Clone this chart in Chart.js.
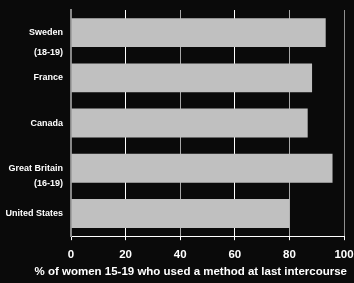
<!DOCTYPE html>
<html><head><meta charset="utf-8">
<script src="https://cdn.jsdelivr.net/npm/chart.js@4/dist/chart.umd.min.js"></script>
<style>html,body{margin:0;padding:0;background:#0a0a0a;overflow:hidden}</style>
</head><body>
<canvas id="c" width="354" height="283"></canvas>
<script>
const categories = [["", "Sweden", "(18-19)"], "France", "Canada", ["", "Great Britain", "(16-19)"], "United States"];
const values = [93.3, 88.3, 86.7, 95.8, 80];
const xTicks = [0, 20, 40, 60, 80, 100];
const axisTitle = "% of women 15-19 who used a method at last intercourse";

const FAMILY = "'Liberation Sans', Arial, sans-serif";
const gridColors = ['#888888', '#ffffff', '#a8a8a8', '#ffffff', '#a8a8a8', '#909090'];

new Chart(document.getElementById('c'), {
  type: 'bar',
  data: {
    labels: categories,
    datasets: [{
      data: values,
      backgroundColor: '#c0c0c0',
      borderWidth: 0,
      categoryPercentage: 1,
      barPercentage: 0.64
    }]
  },
  options: {
    indexAxis: 'y',
    responsive: false,
    animation: false,
    devicePixelRatio: 1,
    layout: { padding: { top: 10, right: 7, bottom: 0, left: 0 } },
    plugins: {
      legend: { display: false },
      tooltip: { enabled: false },
      title: {
        display: true,
        position: 'bottom',
        text: axisTitle,
        color: '#ffffff',
        align: 'end',
        padding: { top: 0, bottom: 4 },
        font: { family: FAMILY, size: 11.5, weight: 'bold', lineHeight: 1.2 }
      }
    },
    scales: {
      x: {
        min: 0, max: 100,
        afterBuildTicks: (s) => { s.ticks = xTicks.map(v => ({ value: v })); },
        afterFit: (s) => { s.height = 29; s.paddingRight = 10; s.paddingLeft = 0; },
        grid: {
          color: (ctx) => gridColors[ctx.index] || '#a8a8a8',
          tickColor: '#ffffff',
          tickLength: 4,
          lineWidth: 1
        },
        border: { display: true, color: '#ffffff', width: 1 },
        ticks: {
          color: '#ffffff',
          padding: 8,
          autoSkip: false,
          maxRotation: 0,
          font: { family: FAMILY, size: 11.5, weight: 'bold' }
        }
      },
      y: {
        afterFit: (s) => { s.width = 71; s.paddingTop = 0; s.paddingBottom = 0; },
        grid: { display: false, drawTicks: false },
        border: { display: true, color: '#888888', width: 2 },
        ticks: {
          color: '#ffffff',
          padding: 8,
          autoSkip: false,
          font: (ctx) => ({ family: FAMILY, size: 9, weight: 'bold', lineHeight: ctx.index === 0 ? '20px' : '15px' })
        }
      }
    }
  }
});
</script>
</body></html>
